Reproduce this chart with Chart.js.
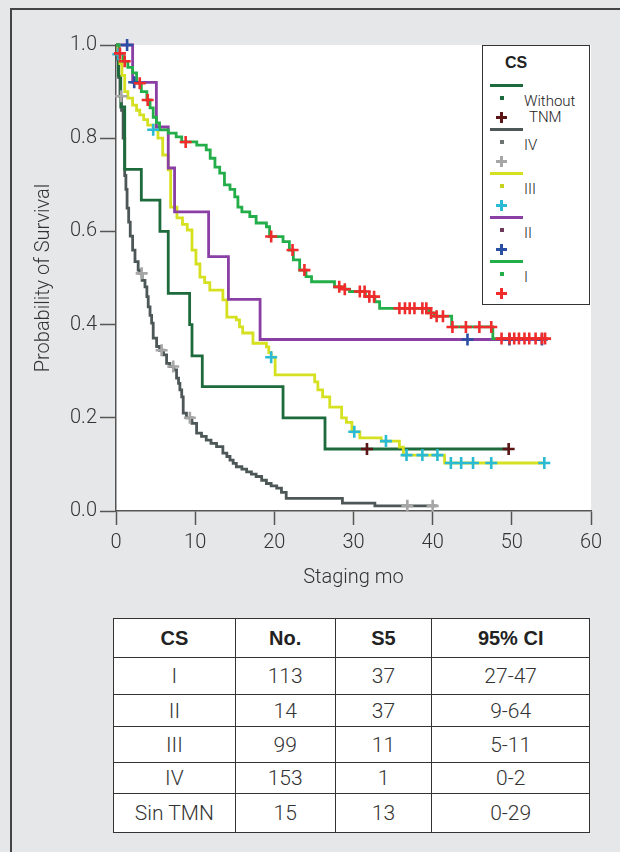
<!DOCTYPE html>
<html>
<head>
<meta charset="utf-8">
<script src="https://cdn.jsdelivr.net/npm/chart.js@4.4.1/dist/chart.umd.min.js"></script>
<style>
  html, body { margin: 0; padding: 0; }
  body { width: 620px; height: 852px; background: #e6e7e8; position: relative; overflow: hidden;
         font-family: Roboto, "Liberation Sans", Arial, sans-serif; color: #333; }
  #frame { position: absolute; left: 10px; top: 8px; width: 640px; height: 900px;
           border-left: 2px solid #444; border-top: 2px solid #444; }
  #chart { position: absolute; left: 0; top: 0; }
  #legend { position: absolute; left: 482px; top: 45px; width: 106px; height: 258px;
            background: #fff; border: 1.5px solid #333; }
  #legend .title { position: absolute; left: 22px; top: 8px; font: bold 16px "Liberation Sans", Arial, sans-serif; color: #222; }
  #legend .ln { position: absolute; left: 7px; width: 33px; height: 3px; }
  #legend .dot { position: absolute; left: 17px; width: 4px; height: 4px; }
  #legend .cr { position: absolute; left: 13px; width: 11px; height: 11px; }
  #legend .cr::before, #legend .cr::after { content: ""; position: absolute; background: currentColor; }
  #legend .cr::before { left: 0; top: 4px; width: 11px; height: 2.5px; }
  #legend .cr::after { left: 4.2px; top: 0; width: 2.5px; height: 11px; }
  #legend .lab { position: absolute; font-size: 15px; font-weight: 300; color: #222; line-height: 16px; }
  table { position: absolute; left: 113px; top: 618px; width: 477px; border-collapse: collapse;
          background: #fff; font-size: 21px; font-weight: 300; color: #333; }
  td, th { border: 1.5px solid #333; text-align: center; padding: 0; }
  th { font: bold 20px "Liberation Sans", Arial, sans-serif; color: #222; }
</style>
</head>
<body>
<div id="frame"></div>
<canvas id="chart" width="620" height="600"></canvas>

<div id="legend">
  <div class="title">CS</div>
</div>

<table>
  <colgroup><col style="width:122px"><col style="width:100px"><col style="width:97px"><col style="width:158px"></colgroup>
  <tr style="height:39px"><th>CS</th><th>No.</th><th>S5</th><th>95% CI</th></tr>
  <tr style="height:37px"><td>I</td><td>113</td><td>37</td><td>27-47</td></tr>
  <tr style="height:32px"><td>II</td><td>14</td><td>37</td><td>9-64</td></tr>
  <tr style="height:36px"><td>III</td><td>99</td><td>11</td><td>5-11</td></tr>
  <tr style="height:31px"><td>IV</td><td>153</td><td>1</td><td>0-2</td></tr>
  <tr style="height:39px"><td>Sin TMN</td><td>15</td><td>13</td><td>0-29</td></tr>
</table>

<script>
// Kaplan-Meier curves: time of each drop (months) and survival after it
const monthsW = [0, 0.3, 0.6, 1.1, 3.2, 5.55, 6.6, 9.3, 9.6, 10.9, 21.1, 26.4, 49.6];
const survW   = [1, .933, .867, .733, .667, .6, .467, .4, .333, .267, .2, .133, .133];
const censorW = [31.7, 49.6];

const monthsIV = [0, 0.2, 0.35, 0.5, 0.7, 0.9, 1.1, 1.25, 1.4, 1.6, 1.8, 2.1, 2.4, 2.8, 3.0, 3.3, 3.66, 3.9, 4.07, 4.3,
                  4.5, 4.7, 5.13, 5.5, 6.0, 6.39, 6.8, 7.3, 7.65, 7.9, 8.07, 8.3, 8.49, 8.9, 9.6, 10.18, 10.8, 11.4, 12.0, 12.7,
                  13.5, 14.0, 14.4, 14.8, 15.2, 15.9, 16.5, 17.1, 17.7, 18.4, 19.0, 19.6, 20.3, 20.9, 21.5, 28.6, 32.7, 40.5];
const survIV   = [1, .97, .93, .89, .86, .80, .72, .69, .65, .62, .59, .56, .535, .517, .51, .495, .481, .46, .438, .42,
                  .403, .371, .353, .345, .335, .317, .31, .303, .285, .274, .26, .245, .21, .20, .188, .167, .16, .152, .145, .138,
                  .124, .117, .109, .102, .095, .09, .084, .079, .074, .066, .059, .054, .049, .04, .027, .017, .011, .011];
const censorIV = [0.65, 3.24, 5.76, 7.23, 9.33, 36.8, 40.0];

const monthsIII = [0, 0.25, 0.5, 0.75, 1.1, 1.5, 2.1, 2.6, 3.0, 3.5, 4.0, 4.7, 5.3, 5.9, 6.6, 6.9, 7.7, 8.4, 9.0, 9.6,
                   10.1, 10.6, 11.2, 11.85, 13.5, 14.0, 15.2, 15.6, 16.0, 17.3, 19.0, 19.3, 19.6, 20.1, 25.1, 25.5, 26.1, 27.0,
                   28.5, 29.1, 29.8, 30.8, 33.5, 35.8, 36.3, 41.5, 54.1];
const survIII   = [1, .98, .96, .935, .90, .886, .871, .86, .85, .84, .828, .818, .80, .764, .732, .652, .629, .615, .603, .56,
                   .53, .502, .49, .474, .453, .416, .41, .395, .382, .36, .352, .34, .33, .292, .277, .26, .245, .223,
                   .20, .19, .17, .157, .15, .137, .12, .103, .103];
const censorIII = [0.3, 4.7, 19.6, 30.1, 34.1, 36.7, 38.7, 40.6, 42.3, 43.6, 45.1, 47.4, 54.1];

const monthsII = [0, 2.1, 5.1, 6.6, 7.4, 11.7, 14.2, 18.2, 53.8];
const survII   = [1, .92, .824, .736, .642, .546, .454, .368, .368];
const censorII = [1.4, 2.3, 44.4, 49.7, 53.8];

const monthsI = [0, 0.4, 0.9, 1.5, 2.1, 2.6, 3.2, 3.9, 4.3, 4.7, 5.1, 5.5, 6.6, 7.6, 8.3, 10.2, 11.4, 11.9, 12.5, 13.1,
                 13.7, 14.4, 15.0, 15.4, 15.9, 16.9, 17.7, 19.0, 19.4, 21.1, 21.9, 22.4, 23.2, 24.0, 24.7, 27.6, 28.9, 29.5,
                 31.5, 32.7, 33.3, 39.5, 40.2, 42.4, 47.6, 54.2];
const survI   = [1, .982, .965, .952, .94, .918, .90, .882, .865, .845, .833, .818, .811, .803, .792, .785, .775, .757, .738, .725,
                 .70, .69, .674, .652, .642, .632, .618, .61, .589, .578, .56, .539, .517, .503, .492, .481, .476, .471,
                 .46, .449, .435, .425, .418, .395, .37, .37];
const censorI = [0.5, 1.1, 3.0, 4.0, 8.8, 19.6, 22.3, 23.8, 28.2, 28.9, 30.8, 31.4, 32.0, 32.6, 35.8, 36.5, 37.1, 37.7,
                 38.7, 39.2, 39.8, 40.5, 41.3, 42.5, 44.2, 45.9, 47.4, 48.7, 49.7, 50.3, 50.9, 51.6, 52.2, 53.0, 53.8, 54.2];

const xTicks = [0, 10, 20, 30, 40, 50, 60];
const yTicks = [0, 0.2, 0.4, 0.6, 0.8, 1.0];

const groups = [
  { label: 'Without TNM', t: monthsW,   s: survW,   c: censorW,   line: '#1d6b3c', dot: '#1d6b3c', mark: '#5b1516' },
  { label: 'IV',          t: monthsIV,  s: survIV,  c: censorIV,  line: '#4e5757', dot: '#6d7373', mark: '#a6a6a6' },
  { label: 'III',         t: monthsIII, s: survIII, c: censorIII, line: '#d5e021', dot: '#c8d21e', mark: '#2bbad3' },
  { label: 'II',          t: monthsII,  s: survII,  c: censorII,  line: '#8a3fa5', dot: '#6b3a5a', mark: '#2a4fa3' },
  { label: 'I',           t: monthsI,   s: survI,   c: censorI,   line: '#24ae49', dot: '#24ae49', mark: '#ef2b2b' }
];

// survival value of a curve at time x (censor marks sit on the curve)
function valueAt(t, s, x) {
  let v = s[0];
  for (let i = 0; i < t.length; i++) if (t[i] <= x) v = s[i];
  return v;
}

const lineOrder = [19, 20, 18, 17, 16];
const markOrder = [8, 9, 7, 6, 5];

const datasets = [];
groups.forEach((g, i) => {
  datasets.push({
    label: g.label,
    data: g.t.map((x, k) => ({ x: x, y: g.s[k] })),
    borderColor: g.line,
    borderWidth: 2.8,
    stepped: true,
    pointRadius: 0,
    fill: false,
    clip: false,
    order: lineOrder[i]
  });
  datasets.push({
    label: g.label + ' censored',
    data: g.c.map(x => ({ x: x, y: valueAt(g.t, g.s, x) })),
    showLine: false,
    pointStyle: 'cross',
    pointRadius: 6,
    pointBorderWidth: 2.6,
    borderColor: g.mark,
    backgroundColor: g.mark,
    clip: false,
    order: markOrder[i]
  });
});

const whiteArea = {
  id: 'whiteArea',
  beforeDraw(chart) {
    const { ctx, chartArea: a } = chart;
    ctx.save();
    ctx.fillStyle = '#ffffff';
    ctx.fillRect(a.left, a.top, a.right - a.left, a.bottom - a.top);
    ctx.restore();
  }
};

Chart.defaults.font.family = 'Roboto, "Liberation Sans", Arial, sans-serif';
Chart.defaults.font.weight = 300;
Chart.defaults.color = '#333';

new Chart(document.getElementById('chart'), {
  type: 'line',
  data: { datasets: datasets },
  options: {
    responsive: false,
    animation: false,
    devicePixelRatio: 1,
    layout: { padding: { left: 16, top: 45, right: 29, bottom: 9 } },
    plugins: { legend: { display: false }, tooltip: { enabled: false } },
    scales: {
      x: {
        type: 'linear',
        min: 0,
        max: 60,
        afterFit(scale) { scale.height = 80; },
        afterBuildTicks(scale) { scale.ticks = xTicks.map(v => ({ value: v })); },
        ticks: { padding: 6, font: { size: 20 }, color: '#333', callback: v => String(v) },
        grid: { drawOnChartArea: false, drawTicks: true, tickLength: 14, tickColor: '#555', tickWidth: 1.5 },
        border: { color: '#555', width: 1.5 },
        title: { display: true, text: 'Staging mo', font: { size: 20 }, color: '#333', padding: { top: 1, bottom: 1 } }
      },
      y: {
        type: 'linear',
        min: 0,
        max: 1,
        afterFit(scale) { scale.width = 100; },
        afterBuildTicks(scale) { scale.ticks = yTicks.map(v => ({ value: v })); },
        ticks: { padding: 3, font: { size: 20 }, color: '#333', callback: v => v.toFixed(1) },
        grid: { drawOnChartArea: false, drawTicks: true, tickLength: 16, tickColor: '#555', tickWidth: 1.5 },
        border: { color: '#555', width: 1.5 },
        title: { display: true, text: 'Probability of Survival', font: { size: 20 }, color: '#333', padding: { top: 16, bottom: 16 } }
      }
    }
  },
  plugins: [whiteArea]
});

// legend box: line, point and censor mark for each group
const legend = document.getElementById('legend');
const legendLabels = [['Without', 'TNM'], ['IV'], ['III'], ['II'], ['I']];
groups.forEach((g, i) => {
  const top = 38 + i * 44;
  const ln = document.createElement('div');
  ln.className = 'ln'; ln.style.top = top + 'px'; ln.style.background = g.line;
  const dot = document.createElement('div');
  dot.className = 'dot'; dot.style.top = (top + 12) + 'px'; dot.style.background = g.dot;
  const cr = document.createElement('div');
  cr.className = 'cr'; cr.style.top = (top + 28) + 'px'; cr.style.color = g.mark;
  legend.append(ln, dot, cr);
  legendLabels[i].forEach((txt, k) => {
    const lab = document.createElement('div');
    lab.className = 'lab';
    lab.textContent = txt;
    lab.style.left = (k === 0 ? 41 : 46) + 'px';
    lab.style.top = (top + 9 + k * 16) + 'px';
    legend.append(lab);
  });
});
</script>
</body>
</html>
